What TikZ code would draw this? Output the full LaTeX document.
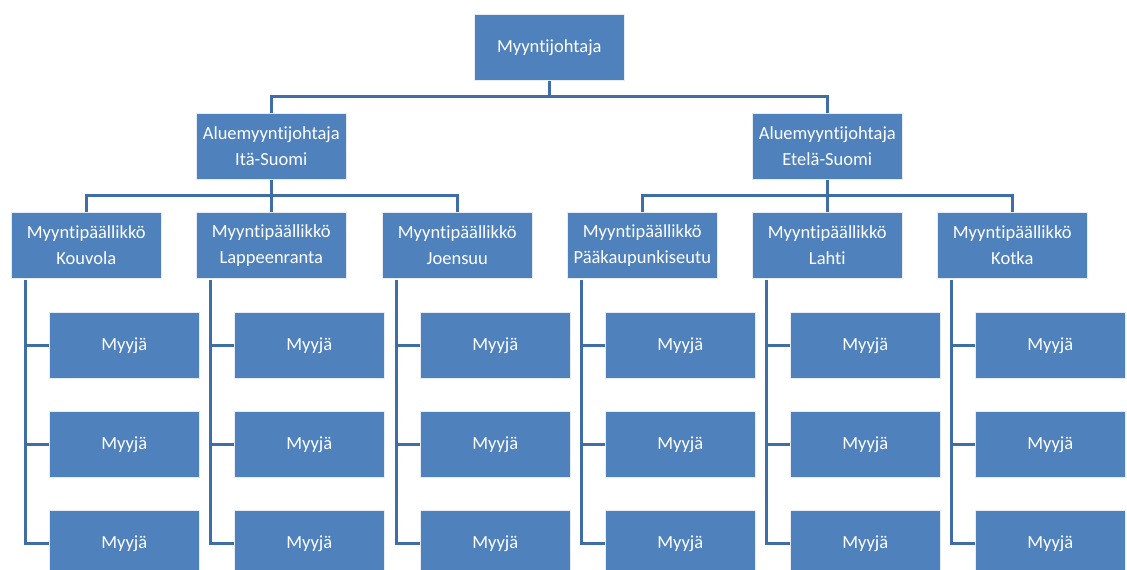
\documentclass[tikz,border=0pt]{standalone}
\usepackage{fontspec}
\setmainfont{Carlito}[Ligatures={NoCommon}]
\usetikzlibrary{calc}
\definecolor{boxfill}{HTML}{4F81BD}
\definecolor{linkcol}{HTML}{3F6EA6}
\begin{document}
\begin{tikzpicture}[x=1pt,y=-1pt,
  orgbox/.style={fill=boxfill,draw=white!85!boxfill,line width=0.6pt,
    minimum width=150pt,minimum height=66pt,inner sep=0pt,
    text=white,font=\fontsize{18.5pt}{26pt}\selectfont,align=center,anchor=north west},
  link/.style={draw=linkcol,line width=3pt}]
\useasboundingbox (0,0) rectangle (1127,570);
\begin{scope}
\clip (0,0) rectangle (1127,570);
% top
\node[orgbox] (top) at (474,14) {Myyntijohtaja};
% regional directors
\node[orgbox] (east) at (196,113) {Aluemyyntijohtaja\\Itä-Suomi};
\node[orgbox] (south) at (752,113) {Aluemyyntijohtaja\\Etelä-Suomi};
% sales managers
\node[orgbox] (m1) at (11,212) {Myyntipäällikkö\\Kouvola};
\node[orgbox] (m2) at (196,212) {Myyntipäällikkö\\Lappeenranta};
\node[orgbox] (m3) at (382,212) {Myyntipäällikkö\\Joensuu};
\node[orgbox] (m4) at (567,212) {Myyntipäällikkö\\Pääkaupunkiseutu};
\node[orgbox] (m5) at (752,212) {Myyntipäällikkö\\Lahti};
\node[orgbox] (m6) at (937,212) {Myyntipäällikkö\\Kotka};
% sellers under each manager
\foreach \m/\x in {m1/11,m2/196,m3/382,m4/567,m5/752,m6/937}{
  \foreach \r/\y in {1/312,2/411,3/510}{
    \node[orgbox] (\m s\r) at (\x+38,\y) {Myyjä};
  }
  \coordinate (\m rail) at ($(\m.south west)+(14,1)$);
  \draw[link] (\m rail) |- (\m s3.west);
  \draw[link] (\m rail |- \m s1.west) -- (\m s1.west);
  \draw[link] (\m rail |- \m s2.west) -- (\m s2.west);
}
% top level connectors
\coordinate (bus1) at ($(top.south)+(0,16)$);
\draw[link] (top.south) -- (bus1);
\draw[link] (east.north) |- (bus1) -| (south.north);
\coordinate (bus2) at ($(east.south)+(0,16)$);
\draw[link] (east.south) -- (m2.north);
\draw[link] (m1.north) |- (bus2) -| (m3.north);
\coordinate (bus3) at ($(south.south)+(0,16)$);
\draw[link] (south.south) -- (m5.north);
\draw[link] (m4.north) |- (bus3) -| (m6.north);
\end{scope}
\end{tikzpicture}
\end{document}
